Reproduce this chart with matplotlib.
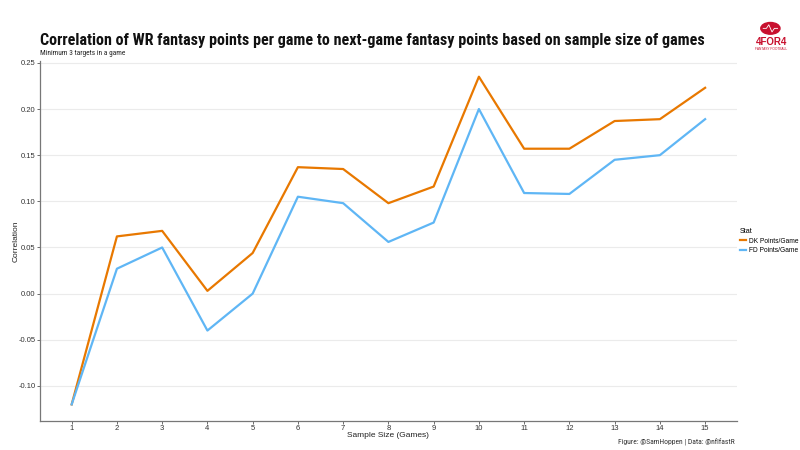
import matplotlib.pyplot as plt
from matplotlib.patches import Ellipse

# data
games = list(range(1, 16))
dk_corr = [-0.120, 0.062, 0.068, 0.003, 0.044, 0.137, 0.135, 0.098, 0.116,
           0.235, 0.157, 0.157, 0.187, 0.189, 0.223]
fd_corr = [-0.120, 0.027, 0.050, -0.040, 0.000, 0.105, 0.098, 0.056, 0.077,
           0.200, 0.109, 0.108, 0.145, 0.150, 0.189]
series_labels = ["DK Points/Game", "FD Points/Game"]
yticks = [-0.10, -0.05, 0.00, 0.05, 0.10, 0.15, 0.20, 0.25]

narrow = ["Roboto Condensed", "Roboto", "DejaVu Sans"]
plt.rcParams["font.family"] = ["Liberation Sans", "DejaVu Sans"]

fig = plt.figure(figsize=(8, 4.5), dpi=100)
ax = fig.add_axes([0.05, 0.0644, 0.871, 0.80])

ax.plot(games, dk_corr, color="#E87800", lw=1.6, label=series_labels[0])
ax.plot(games, fd_corr, color="#5FB6F5", lw=1.6, label=series_labels[1])

ax.set_xlim(0.3, 15.7)
ax.set_ylim(-0.138, 0.252)
ax.set_xticks(games)
ax.set_yticks(yticks)
ax.set_yticklabels([f"{v:.2f}" for v in yticks])
ax.grid(axis="y", color="#EBEBEB", lw=0.8)
ax.set_axisbelow(True)
for side in ("top", "right"):
    ax.spines[side].set_visible(False)
for side in ("left", "bottom"):
    ax.spines[side].set_color("#777777")
    ax.spines[side].set_linewidth(0.9)
ax.tick_params(axis="both", labelsize=5.5, colors="#555555", length=2,
               width=0.6, pad=1.2)
ax.tick_params(axis="both", labelcolor="#333333")

ax.set_xlabel("Sample Size (Games)", fontsize=6, color="#222222", labelpad=0)
ax.set_ylabel("Correlation", fontsize=6, color="#222222", labelpad=-0.5)

fig.text(0.05, 0.9, "Correlation of WR fantasy points per game to next-game "
         "fantasy points based on sample size of games",
         fontsize=11.6, fontweight="bold", family=narrow, color="#111111",
         va="baseline")
fig.text(0.05, 0.877, "Minimum 3 targets in a game", fontsize=5.3,
         family=narrow, color="#222222", va="baseline")
fig.text(0.919, 0.012, "Figure: @SamHoppen | Data: @nflfastR", fontsize=5.5,
         family=narrow, color="#333333", ha="right", va="baseline")

leg = ax.legend(loc="center left", bbox_to_anchor=(1.0, 0.5), frameon=False,
                title="Stat", fontsize=4.8, title_fontsize=5.2,
                handlelength=0.9, handletextpad=0.5, labelspacing=0.35,
                borderaxespad=0.1)
leg._legend_box.align = "left"

# 4for4 logo, top right
fig.patches.append(Ellipse((0.963, 0.937), 0.024, 0.026, color="#C8102E",
                           transform=fig.transFigure, figure=fig))
fig.lines.append(plt.Line2D([0.954, 0.958, 0.961, 0.965, 0.968, 0.972],
                            [0.937, 0.937, 0.945, 0.929, 0.937, 0.937],
                            color="white", lw=0.6, transform=fig.transFigure,
                            figure=fig))
fig.text(0.964, 0.907, "4FOR4", color="#C8102E", fontsize=7,
         fontweight="bold", ha="center", va="center")
fig.text(0.964, 0.891, "FANTASY FOOTBALL", color="#C8102E", fontsize=2.3,
         ha="center", va="center")

fig.savefig("out.png", dpi=100)
